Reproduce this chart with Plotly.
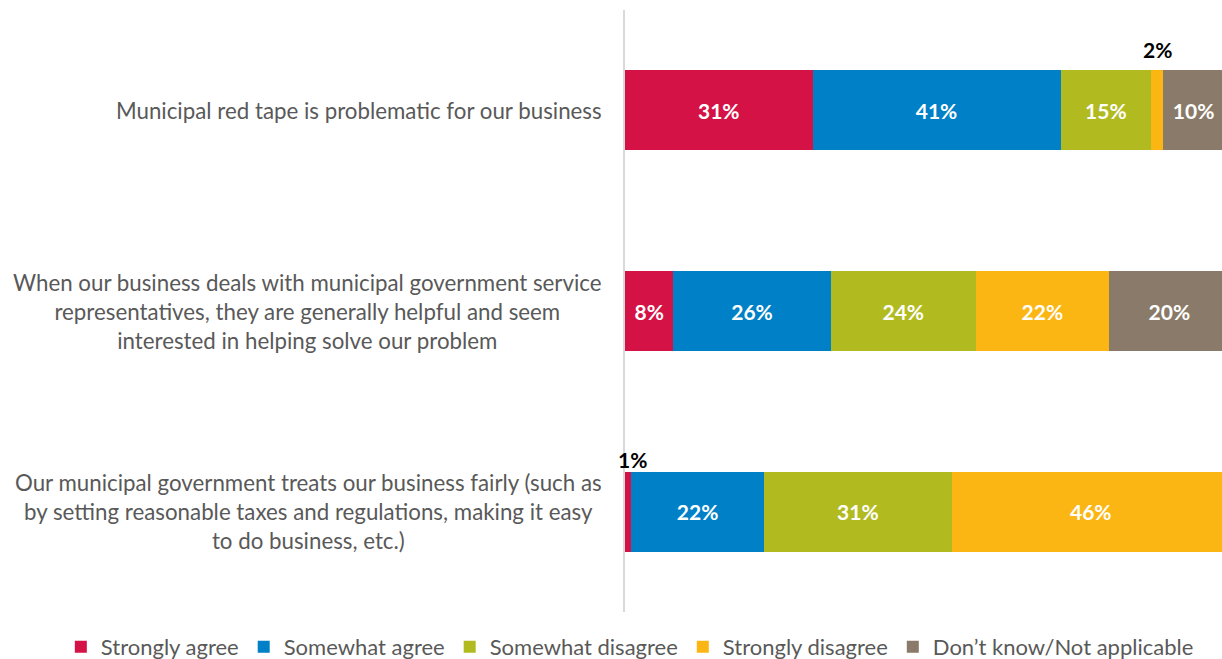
import plotly.graph_objects as go

categories = [
    "Municipal red tape is problematic for our business",
    "When our business deals with municipal government service<br>representatives, they are generally helpful and seem<br>interested in helping solve our problem",
    "Our municipal government treats our business fairly (such as<br>by setting reasonable taxes and regulations, making it easy<br>to do business, etc.)",
]
series_names = ["Strongly agree", "Somewhat agree", "Somewhat disagree", "Strongly disagree", "Don’t know/Not applicable"]
strongly_agree = [31, 8, 1]
somewhat_agree = [41, 26, 22]
somewhat_disagree = [15, 24, 31]
strongly_disagree = [2, 22, 46]
dont_know = [10, 20, 0]

series_values = [strongly_agree, somewhat_agree, somewhat_disagree, strongly_disagree, dont_know]
colors = ["#D41245", "#0080C6", "#B1BB20", "#FCB614", "#8A7A69"]

FONT = "Lato"
GREY = "#595959"
SMALL = 3  # values below this are labelled above the bar

ypos = list(range(len(categories)))

fig = go.Figure()
for name, vals, col in zip(series_names, series_values, colors):
    texts = [f"<b>{v}%</b>" if v >= SMALL else "" for v in vals]
    fig.add_trace(go.Bar(
        y=ypos, x=vals, name=name, orientation="h",
        marker=dict(color=col, line=dict(width=0)),
        text=texts, textposition="inside", insidetextanchor="middle",
        textfont=dict(family=FONT, size=21, color="white"),
        constraintext="none",
        width=0.4,
    ))

annotations = []
for k, label in zip(ypos, categories):
    annotations.append(dict(
        x=0, xref="paper", y=k, yref="y", text=label, showarrow=False,
        xanchor="right", yanchor="middle", align="center", xshift=-21,
        font=dict(family=FONT, size=22.3, color=GREY),
    ))
small_shift = {0: 61, 2: 52}
for ci, k in enumerate(ypos):
    cum = 0
    for vals in series_values:
        v = vals[ci]
        if 0 < v < SMALL:
            annotations.append(dict(
                x=cum + v / 2, xref="x", y=k, yref="y", text=f"<b>{v}%</b>",
                showarrow=False, xanchor="center", yanchor="middle",
                yshift=small_shift.get(ci, 55), xshift=4 if ci == 2 else 0,
                font=dict(family=FONT, size=21, color="black"),
            ))
        cum += v

fig.update_layout(
    barmode="stack",
    width=1222, height=659,
    margin=dict(l=625, r=0, t=10, b=47, autoexpand=False),
    paper_bgcolor="white", plot_bgcolor="white",
    showlegend=True,
    legend=dict(
        orientation="h", x=-0.945, xanchor="left",
        y=-0.058, yanchor="middle",
        font=dict(family=FONT, size=22, color=GREY),
        itemwidth=30, traceorder="normal",
    ),
    annotations=annotations,
    xaxis=dict(range=[0, 98.7], showgrid=False, zeroline=False, showticklabels=False, showline=False),
    yaxis=dict(
        range=[2.5, -0.5], autorange=False,
        showticklabels=False, showgrid=False, zeroline=False,
        showline=True, linecolor="#D9D9D9", linewidth=2,
    ),
)

fig.write_html(
    "out.html",
    config={"displayModeBar": False},
    post_script="document.body.style.margin='0';document.body.style.overflow='hidden';",
)
